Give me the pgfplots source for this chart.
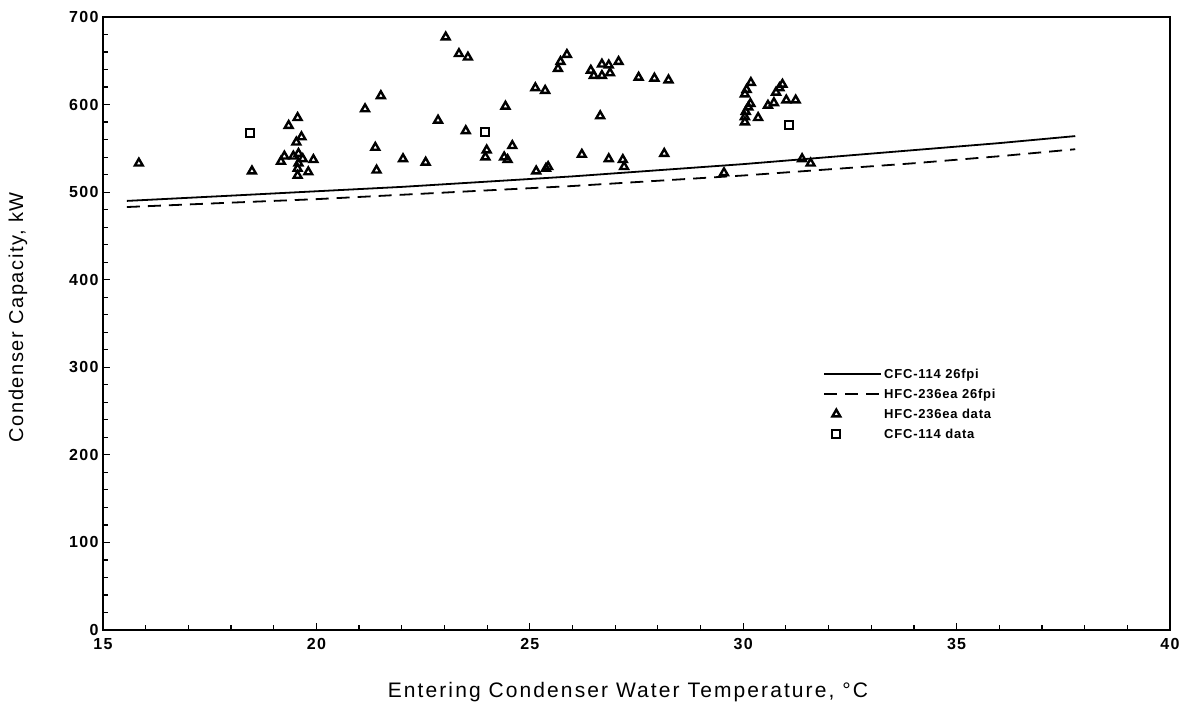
\documentclass[border=0pt]{standalone}
\usepackage{fontspec}
\setmainfont{Liberation Sans}
\newfontfamily\xlblfont[LetterSpace=10]{Liberation Sans}
\newfontfamily\ylblfont[LetterSpace=8]{Liberation Sans}
\newfontfamily\tickfont[LetterSpace=8]{Liberation Sans}
\newfontfamily\legfont[LetterSpace=6]{Liberation Sans}
\usepackage{pgfplots}
\pgfplotsset{compat=1.18}
\pgfplotsset{
  lineleg/.style={legend image code/.code={\draw[##1] (0pt,0pt) -- (57pt,0pt);}},
  markleg/.style={legend image code/.code={\path[draw=none,fill=none] (0pt,0pt) -- (57pt,0pt); \draw[##1, only marks] plot coordinates {(12pt,0pt)};}},
}
\begin{document}
\begin{tikzpicture}
\useasboundingbox (-103pt,-79pt) rectangle (1087pt,630pt);
\begin{axis}[
  at={(0pt,0pt)}, anchor=south west, scale only axis,
  width=1067pt, height=613pt,
  xmin=15, xmax=40, ymin=0, ymax=700,
  xtick={15,20,...,40}, ytick={0,100,...,700},
  minor x tick num=4, minor y tick num=4,
  tick pos=left, tick align=inside,
  major tick length=7pt, minor tick length=5pt,
  axis line style={line width=1.8pt},
  every tick/.style={line width=1.2pt, black},
  /pgf/number format/assume math mode=true,
  tick label style={font=\fontsize{16}{16}\selectfont\tickfont\bfseries},
  xticklabel style={yshift=-5pt},
  yticklabel style={xshift=-1pt},
  xlabel={Entering Condenser Water Temperature, °C},
  ylabel={Condenser Capacity, kW},
  xlabel style={at={(axis description cs:0.492,-0.101)}, anchor=center, font=\fontsize{21}{21}\selectfont\xlblfont},
  ylabel style={at={(axis description cs:-0.0797,0.51)}, anchor=center, font=\fontsize{20}{20}\selectfont\ylblfont},
  legend style={at={(0.675,0.428)}, anchor=north west, draw=none, fill=none,
    inner sep=0pt, row sep=7pt,
    font=\fontsize{13}{13}\selectfont\legfont\bfseries,
    nodes={inner xsep=2pt, inner ysep=1pt}},
  legend cell align=left,
]
\addplot[black, line width=1.8pt, lineleg] coordinates {
 (15.56,490) (18,496) (20,501) (22,506) (24,512) (26,518) (28,525) (30,532) (32,540) (34,548) (36,556) (37.78,564)};
\addlegendentry{CFC-114 26fpi}
\addplot[black, line width=1.8pt, dash pattern=on 13pt off 8pt, lineleg] coordinates {
 (15.56,483) (18,488) (20,492) (22,497) (24,502) (26,507) (28,513) (30,519) (32,526) (34,533) (36,541) (37.78,549)};
\addlegendentry{HFC-236ea 26fpi}
\addplot[only marks, mark=triangle, mark size=4.5pt, mark options={line width=2.4pt, draw=black, fill=white, solid}, markleg] coordinates {
 (15.84,533) (18.49,524) (19.56,585) (19.35,576) (19.65,563) (19.53,557) (19.25,541) (19.17,535)
 (19.46,541) (19.58,544) (19.68,538) (19.93,537) (19.56,527) (19.81,523) (19.56,519) (19.58,533)
 (21.14,595) (21.51,610) (21.38,551) (21.41,525) (22.03,538) (22.56,534) (22.85,582)
 (23.03,677) (23.34,658) (23.55,654) (23.50,570) (23.99,548) (23.96,540)
 (24.43,598) (24.40,540) (24.48,537) (24.59,553)
 (25.13,619) (25.36,616) (25.15,524) (25.38,527) (25.43,529)
 (25.66,641) (25.72,649) (25.87,657) (26.22,543)
 (26.43,639) (26.50,633) (26.69,646) (26.69,633) (26.85,645) (26.88,636) (26.65,587) (26.85,538)
 (27.08,649) (27.18,537) (27.21,529) (27.55,631) (27.92,630) (28.25,628) (28.15,544)
 (29.55,522) (30.04,612) (30.08,617) (30.18,625) (30.04,580) (30.04,586) (30.06,592) (30.12,597)
 (30.17,601) (30.35,585) (30.58,599) (30.72,602) (30.77,614) (30.85,619) (30.92,623)
 (31.01,605) (31.23,605) (31.38,538) (31.58,533)};
\addlegendentry{HFC-236ea data}
\addplot[only marks, mark=square, mark size=4pt, mark options={line width=2pt, draw=black, fill=white, solid}, markleg] coordinates {
 (18.45,567) (23.96,569) (31.07,577)};
\addlegendentry{CFC-114 data}
\end{axis}
\end{tikzpicture}
\end{document}
